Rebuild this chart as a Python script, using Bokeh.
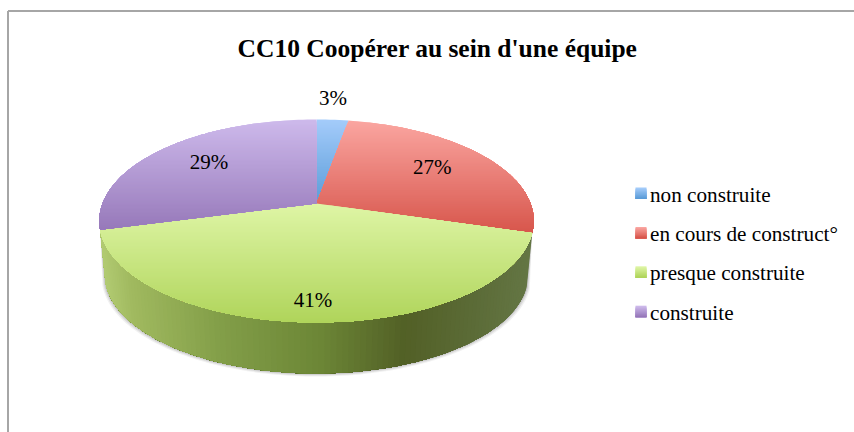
import math
from bokeh.plotting import figure
from bokeh.models import Range1d
from bokeh.core.properties import value
from bokeh.embed import file_html
from bokeh.resources import INLINE

TITLE = "CC10 Coopérer au sein d'une équipe"
categories = ["non construite", "en cours de construct°", "presque construite", "construite"]
shares = [2.8, 26.8, 41.3, 29.1]
share_labels = ["3%", "27%", "41%", "29%"]

# styling / geometry
FONT = value("Liberation Serif")
TOP = [(163, 203, 250), (250, 165, 160), (222, 245, 165), (205, 185, 235)]
BOT = [(90, 155, 215), (215, 85, 75), (175, 212, 90), (150, 120, 185)]
WALL_STOPS = [(100, (178, 203, 115)), (130, (160, 185, 95)), (220, (130, 158, 72)), (320, (108, 134, 54)),
              (405, (82, 96, 38)), (480, (92, 108, 56)), (530, (100, 118, 68))]
CX, CY, A, B, K = 316.0, 203.0, 214.0, 98.5, 0.172
DEPTH, BOTTOM_SCALE = 54.0, 0.975
LABEL_R = [1.27, 0.68, 0.86, 0.68]
LABEL_DX = [-3, -1, 0, 0]
LABEL_DY = -3
LEG_X0, LEG_X1, LEG_TOP, LEG_H, LEG_STEP, LEG_TX = 635, 646, 187, 11.5, 39.4, 649.5


def project(theta, r=1.0, scale=1.0, dy=0.0):
    u, v = r * math.sin(theta), r * math.cos(theta)
    d = 1 + K * v
    return CX + scale * A * u / d, CY + dy - scale * B * v / d


def hexc(c):
    return "#%02x%02x%02x" % tuple(int(round(x)) for x in c)


def mix(a, b, t):
    t = max(0.0, min(1.0, t))
    return tuple(a[i] + (b[i] - a[i]) * t for i in range(3))


def clip_below(poly, y0):
    out = []
    for i, q in enumerate(poly):
        r = poly[(i + 1) % len(poly)]
        if q[1] >= y0:
            out.append(q)
        if (q[1] >= y0) != (r[1] >= y0):
            out.append((q[0] + (r[0] - q[0]) * (y0 - q[1]) / (r[1] - q[1]), y0))
    return out


def wall_color(x):
    for (x0, c0), (x1, c1) in zip(WALL_STOPS, WALL_STOPS[1:]):
        if x <= x1:
            return mix(c0, c1, (x - x0) / (x1 - x0))
    return WALL_STOPS[-1][1]


p = figure(width=854, height=432, output_backend="svg", toolbar_location=None,
           x_range=Range1d(0, 854), y_range=Range1d(432, 0), min_border=0)
p.axis.visible = False
p.grid.visible = False
p.outline_line_color = None
p.background_fill_color = "white"
p.border_fill_color = "white"

# chart frame
p.segment([7.5, 7.5], [432, 10.5], [7.5, 854], [10.5, 10.5], line_color="#a6a6a6", line_width=2)

# slice boundaries, from the shares
cum = [0.0]
for s in shares:
    cum.append(cum[-1] + s)
total = cum[-1]
ang = [2 * math.pi * c / total for c in cum]

# soft shadow and side wall of the slice that faces the viewer
t0, t1 = ang[2], ang[3]
N = 110
thetas = [t0 + (t1 - t0) * i / N for i in range(N + 1)]
top_edge = [project(t) for t in thetas]
bot_edge = [project(t, scale=BOTTOM_SCALE, dy=DEPTH) for t in thetas]
for grow, alpha in [(3.0, 0.10), (2.0, 0.16), (1.0, 0.22)]:
    lower = [(x + (grow if x > CX else -grow) * abs(x - CX) / A, y + grow) for x, y in bot_edge]
    poly = top_edge + lower[::-1]
    p.patch([q[0] for q in poly], [q[1] for q in poly], fill_color="#777777", fill_alpha=alpha, line_color=None)

# wall runs from the right end to the left end; each piece reaches the far end so no seams show
xs, ys, cols = [], [], []
for i in range(N):
    poly = top_edge[i:] + bot_edge[i:][::-1]
    xs.append([q[0] for q in poly])
    ys.append([q[1] for q in poly])
    cols.append(hexc(wall_color((top_edge[i][0] + top_edge[i + 1][0]) / 2)))
p.patches(xs, ys, fill_color=cols, line_color=None)

# top face: each slice carries its own vertical gradient, painted downwards in overlapping pieces
for k in range(len(shares)):
    n = max(4, int((ang[k + 1] - ang[k]) * 40))
    poly = [(CX, CY)] + [project(ang[k] + (ang[k + 1] - ang[k]) * j / n) for j in range(n + 1)]
    y_min, y_max = min(q[1] for q in poly), max(q[1] for q in poly)
    xs, ys, cols = [], [], []
    y = y_min
    while y < y_max:
        band = clip_below(poly, y)
        if len(band) >= 3:
            xs.append([q[0] for q in band])
            ys.append([q[1] for q in band])
            cols.append(hexc(mix(TOP[k], BOT[k], (y - y_min) / (y_max - y_min))))
        y += 2
    p.patches(xs, ys, fill_color=cols, line_color=None)

# slice labels
lx, ly = [], []
for k in range(len(shares)):
    q = project((ang[k] + ang[k + 1]) / 2, r=LABEL_R[k])
    lx.append(q[0] + LABEL_DX[k])
    ly.append(q[1] + LABEL_DY)
p.text(lx, ly, text=share_labels, text_font=FONT, text_font_size="21px", text_color="#000000",
       text_align="center", text_baseline="middle")

# legend
for k, name in enumerate(categories):
    y0 = LEG_TOP + k * LEG_STEP
    steps = 10
    p.quad(left=[LEG_X0] * steps, right=[LEG_X1] * steps,
           top=[y0 + LEG_H * i / steps for i in range(steps)],
           bottom=[y0 + LEG_H] * steps,
           fill_color=[hexc(mix(TOP[k], BOT[k], i / (steps - 1))) for i in range(steps)], line_color=None)
    p.text([LEG_TX], [y0 + 7], text=[name], text_font=FONT, text_font_size="21.2px", text_color="#000000",
           text_align="left", text_baseline="alphabetic")

p.text([437], [48], text=[TITLE], text_font=FONT, text_font_size="25.5px", text_font_style="bold",
       text_color="#000000", text_align="center", text_baseline="alphabetic")

open("out.html", "w").write(file_html(p, INLINE))
